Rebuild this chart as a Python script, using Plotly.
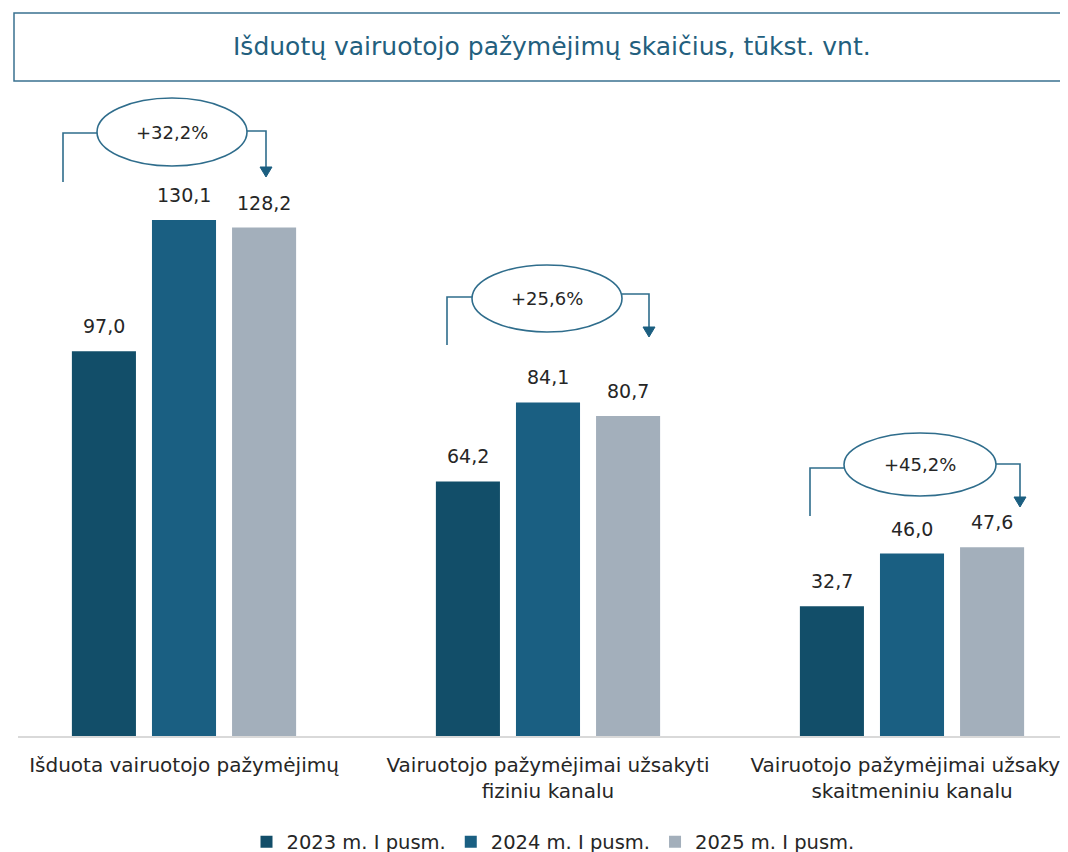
import plotly.graph_objects as go

# ---------------- data ----------------
categories = [
    "Išduota vairuotojo pažymėjimų",
    "Vairuotojo pažymėjimai užsakyti<br>fiziniu kanalu",
    "Vairuotojo pažymėjimai užsakyti<br>skaitmeniniu kanalu",
]
series_names = ["2023 m. I pusm.", "2024 m. I pusm.", "2025 m. I pusm."]
v2023 = [97.0, 64.2, 32.7]
v2024 = [130.1, 84.1, 46.0]
v2025 = [128.2, 80.7, 47.6]
growth_labels = ["+32,2%", "+25,6%", "+45,2%"]
title_text = "Išduotų vairuotojo pažymėjimų skaičius, tūkst. vnt."

# ---------------- style ----------------
colors = ["#124e69", "#1a5f82", "#a3afbb"]
line_col = "#2f6d8c"
text_col = "#262626"
title_col = "#235f7e"
label_font = "DejaVu Sans, Verdana, sans-serif"
num_font = "DejaVu Sans, Arial, sans-serif"

W, H = 1068, 852
OFF = 8                                # page body margin offset of the figure
L, R, T, B = 10, 0, 82, 124            # margins (px)
PW, PH = W - L - R, H - T - B
cat_px = 364.0                         # px per category
first_cat_px = 184.0 - OFF             # fig px x of first category centre
base_px = H - B                        # fig px y of baseline
px_per_unit = 3.966
x_range = [(L - first_cat_px) / cat_px, (W - R - first_cat_px) / cat_px]
y_range = [0, PH / px_per_unit]


# helpers converting reference-picture px into axis / paper coordinates
def xd(px):
    return (px - OFF - first_cat_px) / cat_px


def yd(py):
    return (base_px - (py - OFF)) / px_per_unit


def px_paper(px):
    return (px - OFF - L) / PW


def py_paper(py):
    return (base_px - (py - OFF)) / PH


series = [v2023, v2024, v2025]
fig = go.Figure()
for name, vals, col in zip(series_names, series, colors):
    fig.add_trace(go.Bar(
        x=categories, y=vals, name=name, marker=dict(color=col, line=dict(width=0)),
        hoverinfo="skip",
    ))

# data labels above bars
slot = (1 - 0.34) / 3
shapes = []
annotations = []
for j, vals in enumerate(series):
    for i, v in enumerate(vals):
        annotations.append(dict(
            x=i + (j - 1) * slot, y=v, xref="x", yref="y",
            text=f"{v:.1f}".replace(".", ","), showarrow=False,
            yanchor="bottom", yshift=12,
            font=dict(family=num_font, size=19, color=text_col),
        ))

# growth callouts (decoration geometry in reference px, per group)
callouts = [
    dict(e=(97, 247, 98, 166), lx=63, ly=133, lb=182, ry=131, ax=266, tip=177),
    dict(e=(472, 622, 265, 332), lx=447, ly=297, lb=345, ry=294, ax=649, tip=337),
    dict(e=(844, 996, 433, 496), lx=810, ly=468, lb=516, ry=464, ax=1020, tip=507),
]
for i, c in enumerate(callouts):
    ex0, ex1, ey0, ey1 = c["e"]
    shapes.append(dict(type="circle", xref="x", yref="y",
                       x0=xd(ex0), x1=xd(ex1), y0=yd(ey1), y1=yd(ey0),
                       line=dict(color=line_col, width=1.6), fillcolor="white", layer="above"))
    shapes.append(dict(type="path", xref="x", yref="y",
                       path=f"M {xd(c['lx'])},{yd(c['lb'])} L {xd(c['lx'])},{yd(c['ly'])} L {xd(ex0)},{yd(c['ly'])}",
                       line=dict(color=line_col, width=1.6), layer="above"))
    shapes.append(dict(type="path", xref="x", yref="y",
                       path=f"M {xd(ex1)},{yd(c['ry'])} L {xd(c['ax'])},{yd(c['ry'])} L {xd(c['ax'])},{yd(c['tip'] - 8)}",
                       line=dict(color=line_col, width=1.6), layer="above"))
    shapes.append(dict(type="path", xref="x", yref="y",
                       path=f"M {xd(c['ax'] - 6)},{yd(c['tip'] - 10)} L {xd(c['ax'] + 6)},{yd(c['tip'] - 10)} L {xd(c['ax'])},{yd(c['tip'])} Z",
                       line=dict(color="#1b5e80", width=1), fillcolor="#1b5e80", layer="above"))
    annotations.append(dict(
        x=xd((ex0 + ex1) / 2), y=yd((ey0 + ey1) / 2), xref="x", yref="y",
        text=growth_labels[i], showarrow=False, xanchor="center", yanchor="middle",
        font=dict(family=num_font, size=18, color=text_col),
    ))

# title box
shapes.append(dict(type="rect", xref="paper", yref="paper",
                   x0=px_paper(14), x1=px_paper(1085), y0=py_paper(81), y1=py_paper(13),
                   line=dict(color="#3a7190", width=1.5), fillcolor="white", layer="above"))
annotations.append(dict(
    x=px_paper(552), y=py_paper(47), xref="paper", yref="paper",
    text=title_text, showarrow=False, xanchor="center", yanchor="middle",
    font=dict(family=label_font, size=25, color=title_col),
))

fig.update_layout(
    width=W, height=H,
    margin=dict(l=L, r=R, t=T, b=B, autoexpand=False),
    paper_bgcolor="white", plot_bgcolor="white",
    barmode="group", bargap=0.34, bargroupgap=0.2,
    showlegend=True,
    legend=dict(orientation="h", x=px_paper(553), y=py_paper(842),
                xanchor="center", yanchor="middle",
                font=dict(family=label_font, size=19.5, color=text_col),
                itemwidth=30, tracegroupgap=0),
    shapes=shapes, annotations=annotations,
    font=dict(family=label_font, color=text_col),
)
fig.update_xaxes(range=x_range, showline=True, linecolor="#d9d9d9", linewidth=2,
                 showgrid=False, zeroline=False, ticks="",
                 tickfont=dict(family=label_font, size=20, color=text_col),
                 ticklabelstandoff=10)
fig.update_yaxes(range=y_range, visible=False, showgrid=False, zeroline=False)

fig.write_html("out.html")
